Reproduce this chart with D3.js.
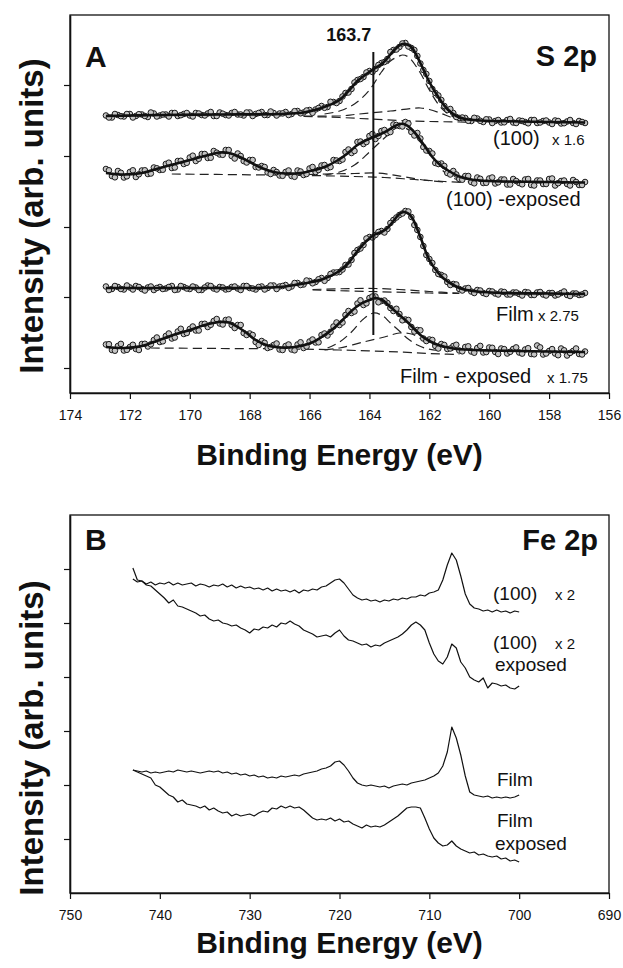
<!DOCTYPE html>
<html><head><meta charset="utf-8">
<script src="https://cdn.jsdelivr.net/npm/d3@7"></script>
<style>body{margin:0;background:#fff} svg{display:block} text{font-family:"Liberation Sans",Arial,Helvetica,sans-serif;fill:#111}</style>
</head><body><svg id="chart" width="623" height="968"></svg>
<script>
// ---------- DATA ----------
const ticksEnergyA = [174,172,170,168,166,164,162,160,158,156];
const ticksEnergyB = [750,740,730,720,710,700,690];
const ticksIntA = [25,96,166,237,308];
const ticksIntB = [54,108,162,216,270,324];

// Panel A: measured points every 0.2 eV from 172.8 to 156.8 eV ...
const gridStartA = 172.8, gridStepA = 0.2;
const s100 = [277.5,275.5,278,276.5,279,277,278.5,276,279.5,277.5,
  278.5,280,277,279,277.5,280,278,279.5,277,280.5,
  278,280,278.5,277.5,280.5,279,281,278,280,279.5,
  281,279,282,280.5,283,283.5,287,286,291,292,
  300,304,313,316,322,324,330,334,343,346,
  350,345,337,323,312,300,293,283,280,275,
  275,272,274.5,271,273.5,272,270.5,273,270.5,272.5,
  271,273,270,272,270.5,272.5,269.5,271.5,270,272,
  270];
const s100exp = [224,217,222,215.5,221,216,222.5,219,225.5,223,
  229,225,232,229,235.5,232,239,235,242,238.5,
  243,237,239.5,232,233,226,227,220.5,223,217.5,
  221,217,222.5,218,224.5,221,227.5,225,233,232,
  241,240,251,249,257,254,262,260,268.5,267,
  271,261,260,246,242,230,229.5,220,222,214,
  217,211,215.5,210,214.5,209.5,213.5,208.5,214,210,
  213.5,208,212.5,209,214,207.5,212,209,213,208,
  211];
const sFilm = [106.5,104,106,103.5,105.5,107,104,105.5,103,106,
  104.5,107,103.5,106,104,105.5,103,107.5,104.5,106,
  103.5,106,104.5,107,105,103.5,106.5,105,107.5,106.5,
  108,106.5,110,108.5,112,111,115,115,120.5,121,
  128,133,143,148,156,158,162,164,173,178,
  182,176,163,147,134,123,118,111,109,104,
  104.5,101.5,103,100,102,99.5,101.5,98.5,100.5,99,
  101,98,100.5,98.5,100,97.5,100,98,99.5,98,
  100];
const sFilmExp = [48.5,43,47,42.5,46,44,49,46.5,53,51,
  57,54.5,61.5,59,64,62.5,69,66,72,69.5,
  73,68,68,60,59.5,51,52,45,48,43.5,
  47,43.5,48.5,45,51.5,50.5,58,57.5,66.5,68,
  78,80,89.5,88,95,96.5,92,90,82,79,
  73.5,66,63,54.5,53.5,47,49,44,47,42.5,
  46,41.5,45,40.5,45.5,41,44.5,39.5,44,40.5,
  43.5,39,47.5,38.5,42,39.5,44.5,37.5,42,39,
  41.5];
// ... and the points in between, every 0.2 eV from 172.7 to 156.9 eV
const midStartA = 172.7;
const s100Mid = [275.5,279,276.8,279,275.5,278.8,277,280.5,276.5,278.5,
  276.5,280,277.8,280,276.5,279.5,277.5,281,277,279.3,
  277.5,281,278.5,280.5,277,280,278,281.5,277.5,279.6,
  278,281.8,279.7,282.5,280.2,285,285.2,291.2,290,296.5,
  300.5,310.5,314,320.5,321,328,331,341,343.5,349.5,
  346.5,343,329.5,319,304,297.5,287,284,276,275.5,
  272.2,275.2,272.2,273.7,270,273,270.7,274,270,272,
  269.7,273,270.5,272.5,269,272,269.8,273,269,271];
const s100expMid = [222.7,215.7,220.2,216.7,222.7,218.7,222.7,219.5,224.7,223.3,
  230.3,225.5,232.2,230.2,237.3,234.2,239,235.3,240.3,238.2,
  243,234.5,237,230.5,233,225.5,226,219,221,217.2,
  222.5,216.2,221.5,219,226,223,228,226,232.5,233.5,
  243.5,242,251.5,251,259,257,263,261,268,266.5,
  269.5,257.5,254.5,242.5,239.5,229,227,218.5,218.5,213.3,
  217,209.7,214.2,210.2,215.5,210.7,213.5,208.5,212,208.7,
  214,207.5,212.5,209,214.5,209.8,212.5,207.5,211,208];
const sFilmMid = [103,107,104,107.5,103.5,106,102.5,106.5,105,104,
  106,103,107,104.5,106.5,103,105.5,107,103.5,105.5,
  104,106.5,103,107,104.5,106,103.5,107.5,104,107,
  105.1,110,108,112.5,109.7,113.7,112.2,119,120.5,123.5,
  128.5,140,144.5,154.5,155.5,161,160.5,170,175.5,179.5,
  181.5,168,156,138,130,119,116.5,108,108.5,102.5,
  105,100,102.5,99,101.5,98.5,101,98.5,100.5,97.5,
  100.5,98,101,97.5,100,98.5,101.5,97,99.5,98.5];
const sFilmExpMid = [48.8,42.3,49.1,43.2,48.2,43,49.2,48.7,55.5,51.7,
  59.5,55.5,64.2,60,66.5,62.5,69.2,68.2,74,68.5,
  73.5,65,68,58,58,48,50.2,46,49.5,43,
  48.5,42.7,50.7,46.5,53.5,50.7,59.5,61.2,70.5,70.5,
  82,81.5,92.7,89.7,96.5,90.7,92.5,85,84.2,72.7,
  73,61.5,62.7,52,53,44.5,48,44.5,48.2,41.7,
  46.7,40.3,47.1,40.9,45.2,39,43.9,41.2,45.6,39.4,
  44.8,38.7,45.6,39.5,43.9,37.8,42.7,40.1,44.5,38.5];

// Panel A: fitted envelopes [eV, intensity]
const fit100 = [[172.8,277],[171,278],[169,278.5],[167,279],[166.2,280.5],[165.6,285],[165.0,293],[164.7,302],[164.4,312],[164.1,319],[163.85,324],[163.55,330],[163.2,342],[163.0,347.5],[162.9,349],[162.75,348.5],[162.6,346],[162.3,330],[162.0,311],[161.7,296],[161.4,284],[161.1,277],[160.8,274],[160.3,272.5],[159,271.5],[156.8,270.5]];
const fit100exp = [[172.8,220],[172.2,218.5],[171.6,220],[171.0,225],[170.5,229],[170.0,233],[169.5,237],[169.0,240.5],[168.7,240],[168.4,237],[168.0,231],[167.6,225],[167.2,221],[166.8,219.5],[166.3,220],[165.9,222.5],[165.5,226],[165.1,232],[164.8,238],[164.4,248],[164.1,253],[163.85,256],[163.55,260],[163.2,266],[163.0,269],[162.85,269],[162.6,264],[162.25,251],[161.9,236],[161.6,227],[161.4,223],[161.0,216.5],[160.6,213.5],[160,212],[158,211],[156.8,210.5]];
const fitFilm = [[172.8,105],[170,105],[168,105],[167,106],[166.5,108],[166,110.5],[165.5,114.5],[165.0,122],[164.7,130],[164.4,142],[164.1,152],[163.85,158],[163.6,161],[163.4,165],[163.2,172],[163.0,179],[162.85,181],[162.7,179.5],[162.55,174],[162.3,156],[162.0,133],[161.7,120],[161.5,114],[161.2,108],[160.9,104],[160.4,101.5],[159.5,100],[158,99.5],[156.8,99]];
const fitFilmExp = [[172.8,46],[172.2,45],[171.6,47],[171.2,51],[170.6,57.5],[170.0,63],[169.5,68],[169.0,71],[168.7,70.5],[168.4,66],[168.1,60],[167.8,53],[167.4,47.5],[167.0,45.5],[166.5,46],[166.0,49.5],[165.6,56],[165.2,64.5],[164.9,73],[164.6,82],[164.3,89],[164.0,93],[163.8,95],[163.6,93.5],[163.3,86],[163.0,78],[162.7,70],[162.3,58],[162.0,52],[161.7,48],[161.2,44.5],[160.5,43],[159,42],[156.8,41]];

// Panel A: fitted components (dashed)
const comp100 = [
  [[165.5,279],[165.0,282],[164.5,289],[164.0,303],[163.6,321],[163.3,332],[163.0,337],[162.9,338],[162.7,336],[162.3,320],[162.0,303],[161.6,285],[161.2,276],[160.9,273],[160.5,271.5]],
  [[166.2,277],[165,277],[164.5,278.5],[164,280],[163.3,282],[162.6,284.5],[162.3,285],[162.0,283.5],[161.6,279.5],[161.3,276],[160.9,272]],
  [[166.2,276.5],[165,275.5],[164,274],[163,272.5],[162,271.5],[161,271],[160.5,270.7]]
];
const comp100exp = [
  [[165.5,218],[165,221],[164.5,228],[164,241],[163.5,255],[163.1,265],[162.9,266],[162.6,261],[162.2,247],[161.8,231],[161.5,221],[161.2,215],[160.9,212],[160.6,211]],
  [[166.5,218],[165.5,219],[164.5,219.5],[163.8,220],[163.3,218.5],[162.8,216],[162.2,213],[161.5,211]],
  [[170.6,219],[168,218.2],[166,217.5],[164.5,216.5],[163.5,215.5],[162.5,213.5],[161.5,211.5],[160.8,210.5]]
];
const compFilm = [
  [[165.9,103.5],[164.5,104.5],[163.8,104.5],[163,103.5],[162,101.5],[161,99.8]],
  [[165.9,103],[164,101.5],[162,100],[161,99.5]]
];
const compFilmExp = [
  [[165.4,45],[165.0,51],[164.6,61],[164.2,74],[163.85,80],[163.55,77],[163.3,70],[163.0,62],[162.75,55],[162.4,48],[162.1,44.5],[161.7,42.5]],
  [[165.5,43],[165.0,45],[164.2,51],[163.5,56],[163.0,60],[162.6,59],[162.2,53],[161.8,47],[161.6,45],[161.2,42.5]],
  [[171.3,45],[169,44.5],[166.5,44],[165,43],[163,41],[161.6,39],[161,38.5]]
];
const markerEnergy = 163.87, markerLabel = "163.7", markerInt = [58, 341];

// Panel B: spectra every 0.5 eV from 743 to 700 eV
const gridStartB = 743, gridStepB = 0.5;
const fe100 = [325,313,312,309,311,308,310,309,311,308,
  310,308,309,310,307,309,308,306,308,307,
  309,306,308,305,307,305,306,304,305,303,
  305,302,304,302,303,301,303,300,303,302,
  304,303,306,307,310,313,314,310,304,298,
  295,293,294,292,293,291,293,292,294,293,
  295,294,296,296,298,297,300,301,303,313,
  328,340,333,317,299,289,285,284,282,283,
  281,283,281,282,280,282,281];
const fe100exp = [314,311,312,308,307,303,299,295,290,293,
  287,286,284,282,280,277,278,274,272,273,
  270,269,267,268,265,263,260,264,263,266,
  265,268,266,270,269,272,269,267,263,261,
  259,256,257,258,256,260,263,257,253,252,
  250,248,249,246,248,247,250,252,254,256,
  259,263,268,271,268,263,250,239,232,229,
  236,249,245,231,225,216,213,211,215,205,
  210,209,207,208,205,204,207];
const feFilm = [123,122,121,122,120,121,120,121,122,121,
  123,122,121,122,121,120,121,122,121,122,
  120,121,119,120,118,119,117,118,116,117,
  115,116,115,117,116,117,118,117,119,120,
  121,122,124,125,127,131,132,128,122,115,
  110,108,107,108,107,106,107,105,107,108,
  109,108,110,111,112,113,115,117,120,127,
  141,166,155,138,117,101,98,97,96,97,
  95,96,95,96,95,96,98];
const feFilmExp = [123,121,119,117,115,108,106,102,98,96,
  91,93,89,88,87,85,87,83,85,82,
  80,81,77,79,77,78,79,77,80,82,
  81,85,84,87,85,87,85,86,83,79,
  75,73,74,73,75,72,74,71,72,69,
  67,65,68,66,67,66,68,71,74,77,
  81,85,86,86,85,75,64,55,50,47,
  48,52,47,44,42,40,41,38,39,37,
  36,37,34,35,32,33,31];

// ---------- DRAW ----------
const svg = d3.select("#chart");
const L = 70, R = 609;
const A = {top: 15, bottom: 393}, B = {top: 515, bottom: 893};
const xA = d3.scaleLinear().domain([174,156]).range([L,R]);
const yA = d3.scaleLinear().domain([0,378]).range([A.bottom,A.top]);
const xB = d3.scaleLinear().domain([750,690]).range([L,R]);
const yB = d3.scaleLinear().domain([0,378]).range([B.bottom,B.top]);

function frame(x, y, top, bottom, tx, ty){
  svg.append("rect").attr("x",L).attr("y",top).attr("width",R-L).attr("height",bottom-top)
    .attr("fill","none").attr("stroke","#111").attr("stroke-width",1.3);
  const gx = svg.append("g").attr("transform",`translate(0,${bottom})`)
    .call(d3.axisBottom(x).tickValues(tx).tickSize(6).tickSizeOuter(0).tickFormat(d3.format("d")));
  gx.select(".domain").attr("stroke","#111").attr("stroke-width",1.6);
  gx.selectAll(".tick line").attr("stroke","#111").attr("stroke-width",1.2);
  gx.selectAll(".tick text").attr("font-size",14).attr("dy","1.3em")
    .style("font-family","'Liberation Sans',Arial,sans-serif").attr("fill","#111");
  const gy = svg.append("g").attr("transform",`translate(${L},0)`)
    .call(d3.axisLeft(y).tickValues(ty).tickSize(6).tickSizeOuter(0).tickFormat(""));
  gy.select(".domain").attr("stroke","#111").attr("stroke-width",1.6);
  gy.selectAll(".tick line").attr("stroke","#111").attr("stroke-width",1.2);
}
frame(xA, yA, A.top, A.bottom, ticksEnergyA, ticksIntA);
frame(xB, yB, B.top, B.bottom, ticksEnergyB, ticksIntB);

// Panel A content
const lineA = d3.line().x(d=>xA(d[0])).y(d=>yA(d[1])).curve(d3.curveCatmullRom.alpha(0.5));
const gA = svg.append("g");
[comp100, comp100exp, compFilm, compFilmExp].forEach(comps => comps.forEach(c => {
  gA.append("path").attr("d", lineA(c)).attr("fill","none").attr("stroke","#222")
    .attr("stroke-width",1.2).attr("stroke-dasharray","9,5");
}));
function dots(series, start){
  gA.append("g").selectAll("circle").data(series).join("circle")
    .attr("cx",(d,i)=>xA(start - gridStepA*i)).attr("cy",d=>yA(d)).attr("r",2.8)
    .attr("fill","#c4c4c4").attr("stroke","#1a1a1a").attr("stroke-width",1);
}
[[s100,s100Mid],[s100exp,s100expMid],[sFilm,sFilmMid],[sFilmExp,sFilmExpMid]].forEach(([a,b]) => {
  dots(a, gridStartA); dots(b, midStartA);
});
[fit100, fit100exp, fitFilm, fitFilmExp].forEach(f => {
  gA.append("path").attr("d", lineA(f)).attr("fill","none").attr("stroke","#111").attr("stroke-width",2.6);
});
svg.append("line").attr("x1",xA(markerEnergy)).attr("x2",xA(markerEnergy))
  .attr("y1",yA(markerInt[1])).attr("y2",yA(markerInt[0])).attr("stroke","#111").attr("stroke-width",2);
svg.append("text").attr("x",xA(markerEnergy)-2).attr("y",41).attr("text-anchor","end")
  .attr("font-size",18).attr("font-weight","bold").text(markerLabel);

// Panel B content
const lineB = d3.line().x((d,i)=>xB(gridStartB - gridStepB*i)).y(d=>yB(d));
[fe100, fe100exp, feFilm, feFilmExp].forEach(s => {
  svg.append("path").attr("d", lineB(s)).attr("fill","none").attr("stroke","#111")
    .attr("stroke-width",1.2).attr("stroke-linejoin","round");
});

// Texts
function txt(x, y, s, size, bold, anchor){
  return svg.append("text").attr("x",x).attr("y",y).attr("font-size",size)
    .attr("font-weight",bold?"bold":"normal").attr("text-anchor",anchor||"start").text(s);
}
txt(85, 67, "A", 30, true);
txt(597, 66, "S 2p", 29, true, "end");
txt(85, 550, "B", 30, true);
txt(598, 550, "Fe 2p", 29, true, "end");

txt(493, 145, "(100)", 20); txt(552, 145, "x 1.6", 15);
txt(446, 206, "(100) -exposed", 20);
txt(496, 321, "Film", 20); txt(538, 321, "x 2.75", 15);
txt(400, 383, "Film - exposed", 20); txt(547, 383, "x 1.75", 15);

txt(493, 600, "(100)", 19); txt(555, 600, "x 2", 15);
txt(493, 649, "(100)", 19); txt(555, 649, "x 2", 15);
txt(495, 671, "exposed", 19);
txt(497, 786, "Film", 19);
txt(497, 827, "Film", 19);
txt(495, 850, "exposed", 19);

txt((L+R)/2, 465, "Binding Energy (eV)", 30, true, "middle");
txt((L+R)/2, 953, "Binding Energy (eV)", 30, true, "middle");
svg.append("text").attr("transform",`translate(43,216) rotate(-90)`)
  .attr("text-anchor","middle").attr("font-size",33).attr("font-weight","bold").text("Intensity (arb. units)");
svg.append("text").attr("transform",`translate(43,738) rotate(-90)`)
  .attr("text-anchor","middle").attr("font-size",33).attr("font-weight","bold").text("Intensity (arb. units)");
</script></body></html>
